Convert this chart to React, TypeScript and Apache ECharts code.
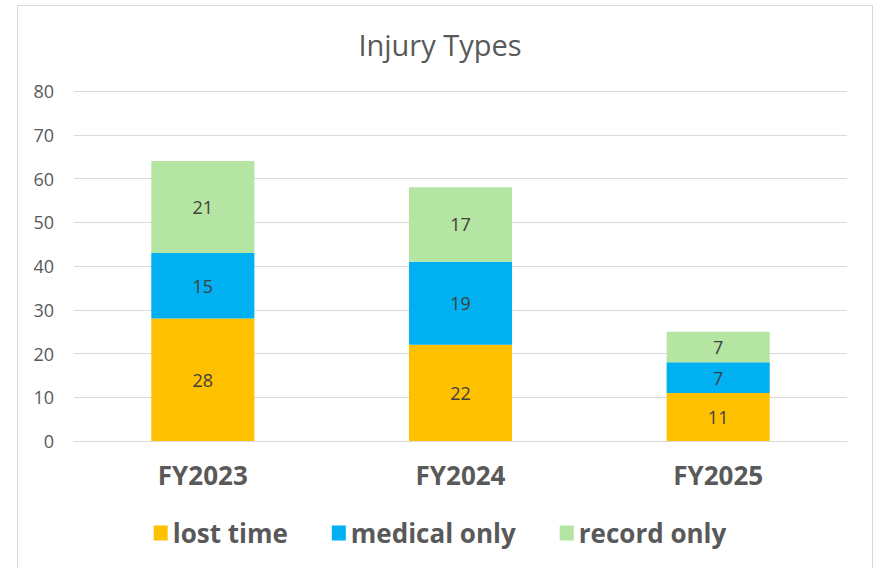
import React, { useEffect, useRef } from "react";
import * as echarts from "echarts";

const categories = ["FY2023", "FY2024", "FY2025"];
const lostTime = [28, 22, 11];
const medicalOnly = [15, 19, 7];
const recordOnly = [21, 17, 7];
const seriesNames = ["lost time", "medical only", "record only"];
const yTicks = { min: 0, max: 80, interval: 10 };

const FONT = "'Open Sans', 'Noto Sans', sans-serif";

export default function App() {
  const ref = useRef<HTMLDivElement>(null);
  useEffect(() => {
    if (!ref.current) return;
    const chart = echarts.init(ref.current, undefined, { renderer: "svg" });
    const label = {
      show: true,
      position: "inside",
      color: "#404040",
      fontSize: 18,
      fontFamily: FONT,
    };
    chart.setOption({
      animation: false,
      backgroundColor: "transparent",
      textStyle: { fontFamily: FONT },
      title: {
        text: "Injury Types",
        left: "center",
        top: 25,
        textStyle: { fontSize: 29, fontWeight: "normal", color: "#595959", fontFamily: FONT },
      },
      legend: {
        bottom: 17,
        left: "center",
        itemWidth: 14,
        itemHeight: 15,
        itemGap: 44,
        itemTextGap: 8,
        icon: "rect",
        data: seriesNames,
        textStyle: { fontSize: 26, fontWeight: "bold", color: "#595959", fontFamily: FONT },
      },
      grid: { left: 74, right: 33, top: 91, bottom: 127, containLabel: false },
      xAxis: {
        type: "category",
        data: categories,
        axisLine: { lineStyle: { color: "#d9d9d9", width: 1 } },
        axisTick: { show: false },
        axisLabel: { fontSize: 26, fontWeight: "bold", color: "#595959", margin: 21, fontFamily: FONT },
      },
      yAxis: {
        type: "value",
        min: yTicks.min,
        max: yTicks.max,
        interval: yTicks.interval,
        axisLine: { show: false },
        axisTick: { show: false },
        splitLine: { lineStyle: { color: "#d9d9d9", width: 1 } },
        axisLabel: { fontSize: 18, color: "#595959", margin: 20, fontFamily: FONT },
      },
      series: [
        { name: seriesNames[0], type: "bar", stack: "a", data: lostTime, barWidth: "40%", itemStyle: { color: "#FFC000" }, label },
        { name: seriesNames[1], type: "bar", stack: "a", data: medicalOnly, itemStyle: { color: "#00B0F0" }, label },
        { name: seriesNames[2], type: "bar", stack: "a", data: recordOnly, itemStyle: { color: "#B4E5A2" }, label },
      ],
    });
    return () => chart.dispose();
  }, []);
  return (
    <div style={{ position: "fixed", left: 0, top: 0, width: 880, height: 568, background: "#fff", overflow: "hidden" }}>
      <div
        style={{
          position: "absolute",
          left: 17,
          top: 5,
          width: 856,
          height: 600,
          border: "1px solid #d9d9d9",
          boxSizing: "border-box",
        }}
      />
      <div ref={ref} style={{ position: "absolute", left: 0, top: 0, width: 880, height: 568 }} />
    </div>
  );
}
